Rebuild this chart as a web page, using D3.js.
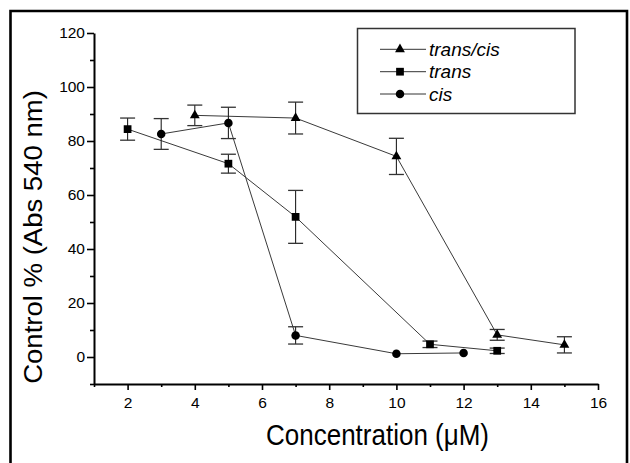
<!DOCTYPE html>
<html>
<head>
<meta charset="utf-8">
<script src="https://cdn.jsdelivr.net/npm/d3@7"></script>
<style>
  html, body { margin: 0; padding: 0; background: #fff; }
  svg { display: block; }
  text { font-family: "Liberation Sans", Arial, sans-serif; fill: #000; }
  .ticklab text { font-size: 15.5px; }
</style>
</head>
<body>
<svg id="chart" width="630" height="463"></svg>
<script>
// ---- data ----
const seriesNames = ["trans/cis", "trans", "cis"];
const seriesShapes = ["triangle", "square", "circle"];

const transCisX = [4, 7, 10, 13, 15];
const transCisY = [89.5, 88.5, 74.3, 8.2, 4.5];
const transCisErr = [3.8, 5.9, 6.7, 2.0, 3.0];

const transX = [2, 5, 7, 11, 13];
const transY = [84.4, 71.6, 51.9, 4.7, 2.3];
const transErr = [4.1, 3.5, 9.8, 1.2, 1.0];

const cisX = [3, 5, 7, 10, 12];
const cisY = [82.6, 86.7, 8.0, 1.2, 1.5];
const cisErr = [5.7, 5.8, 3.2, 0, 0];

const xMajorTicks = [2, 4, 6, 8, 10, 12, 14, 16];
const xMinorTicks = [1, 3, 5, 7, 9, 11, 13, 15];
const yMajorTicks = [0, 20, 40, 60, 80, 100, 120];
const yMinorTicks = [-10, 10, 30, 50, 70, 90, 110];

const xLabel = "Concentration (\u03BCM)";
const yLabel = "Control % (Abs 540 nm)";

// ---- build ----
const series = [
  {name: seriesNames[0], shape: seriesShapes[0], xs: transCisX, ys: transCisY, es: transCisErr},
  {name: seriesNames[1], shape: seriesShapes[1], xs: transX, ys: transY, es: transErr},
  {name: seriesNames[2], shape: seriesShapes[2], xs: cisX, ys: cisY, es: cisErr}
].map(s => ({...s, pts: s.xs.map((x, i) => ({x, y: s.ys[i], e: s.es[i]}))}));

const svg = d3.select("#chart");
const x = d3.scaleLinear().domain([1, 16]).range([94, 598]);
const y = d3.scaleLinear().domain([-10, 120]).range([384, 33]);

// outer frame
svg.append("path")
  .attr("d", "M10.5,463 L10.5,11 L627,11 L627,463")
  .attr("fill", "none").attr("stroke", "#000").attr("stroke-width", 2.6);

// axes
const gx = svg.append("g").attr("transform", `translate(0,${y(-10)})`);
gx.call(d3.axisBottom(x).tickValues(xMinorTicks).tickSize(3).tickFormat(""));
gx.call(g => g.selectAll(".domain").remove());
const gx2 = svg.append("g").attr("class", "ticklab").attr("transform", `translate(0,${y(-10)})`)
  .call(d3.axisBottom(x).tickValues(xMajorTicks).tickSize(6).tickSizeOuter(0).tickPadding(7).tickFormat(d3.format("d")));
gx2.attr("font-size", null).attr("font-family", null);

const gy = svg.append("g").attr("transform", `translate(${x(1)},0)`);
gy.call(d3.axisLeft(y).tickValues(yMinorTicks).tickSize(4).tickFormat(""));
gy.call(g => g.selectAll(".domain").remove());
const gy2 = svg.append("g").attr("class", "ticklab").attr("transform", `translate(${x(1)},0)`)
  .call(d3.axisLeft(y).tickValues(yMajorTicks).tickSize(7).tickSizeOuter(0).tickPadding(2).tickFormat(d3.format("d")));
gy2.attr("font-size", null).attr("font-family", null);

svg.selectAll(".domain").attr("stroke-width", 2);
svg.selectAll(".tick line").attr("stroke-width", 1.6);

// axis titles
svg.append("text")
  .attr("transform", `translate(${(263 + 492) / 2},445) scale(1,1.1)`)
  .attr("text-anchor", "middle")
  .style("font-size", "26px")
  .text(xLabel);

svg.append("text")
  .attr("transform", `translate(41.5,237) rotate(-90) scale(1.08,1)`)
  .attr("text-anchor", "middle")
  .style("font-size", "25.5px")
  .text(yLabel);

// symbols
function symbolPath(shape) {
  if (shape === "triangle") return d3.symbol(d3.symbolTriangle, 42)();
  if (shape === "square") return d3.symbol(d3.symbolSquare, 60)();
  return d3.symbol(d3.symbolCircle, 57)();
}

const line = d3.line().x(d => x(d.x)).y(d => y(d.y));
const plot = svg.append("g");

series.forEach(s => {
  plot.append("path").datum(s.pts)
    .attr("d", line).attr("fill", "none")
    .attr("stroke", "#3a3a3a").attr("stroke-width", 1);
});

series.forEach(s => {
  const eb = plot.append("g");
  s.pts.filter(p => p.e > 0).forEach(p => {
    const cx = x(p.x), t = y(p.y + p.e), b = y(p.y - p.e);
    eb.append("line").attr("x1", cx).attr("x2", cx).attr("y1", t).attr("y2", b)
      .attr("stroke", "#222").attr("stroke-width", 1.1);
    [t, b].forEach(yy => eb.append("line")
      .attr("x1", cx - 7.5).attr("x2", cx + 7.5).attr("y1", yy).attr("y2", yy)
      .attr("stroke", "#333").attr("stroke-width", 1.3));
  });
});

series.forEach(s => {
  plot.selectAll(null).data(s.pts).enter().append("path")
    .attr("d", symbolPath(s.shape))
    .attr("transform", d => `translate(${x(d.x)},${y(d.y)})`)
    .attr("fill", "#000");
});

// legend
const lg = svg.append("g");
lg.append("rect").attr("x", 357.5).attr("y", 28.5).attr("width", 217.5).attr("height", 85)
  .attr("fill", "#fff").attr("stroke", "#333").attr("stroke-width", 1.5);
const rowY = [49.3, 71.7, 94];
series.forEach((s, i) => {
  const ry = rowY[i];
  lg.append("line").attr("x1", 380).attr("x2", 426).attr("y1", ry).attr("y2", ry)
    .attr("stroke", "#333").attr("stroke-width", 1);
  lg.append("path").attr("d", symbolPath(s.shape))
    .attr("transform", `translate(400,${ry})`).attr("fill", "#000");
  lg.append("text").attr("x", 429).attr("y", ry + 6.5)
    .style("font-size", "19px").style("font-style", "italic")
    .text(s.name);
});
</script>
</body>
</html>
